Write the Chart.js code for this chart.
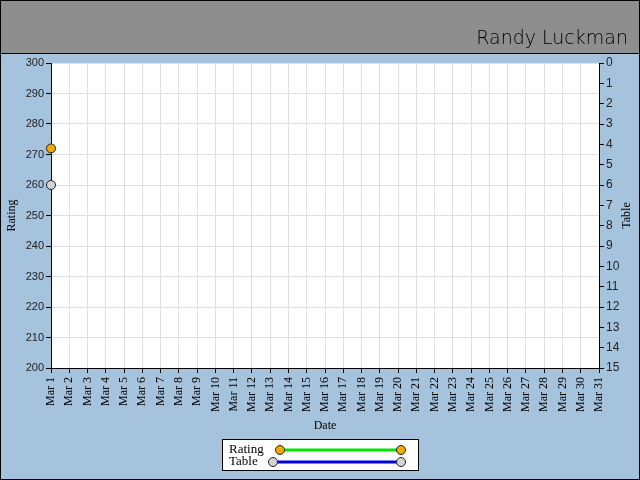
<!DOCTYPE html>
<html>
<head>
<meta charset="utf-8">
<script src="https://cdn.jsdelivr.net/npm/chart.js@4"></script>
<style>
  html, body { margin: 0; padding: 0; background: #a6c3dd; }
  #wrap { width: 640px; height: 480px; position: relative; }
  canvas { display: block; }
</style>
</head>
<body>
<div id="wrap"><canvas id="ratingChart" width="640" height="480"></canvas></div>
<script>
// =====================
// Data
// =====================
const chartTitle = "Randy Luckman";
const dates = [
  "Mar 1", "Mar 2", "Mar 3", "Mar 4", "Mar 5", "Mar 6", "Mar 7", "Mar 8",
  "Mar 9", "Mar 10", "Mar 11", "Mar 12", "Mar 13", "Mar 14", "Mar 15", "Mar 16",
  "Mar 17", "Mar 18", "Mar 19", "Mar 20", "Mar 21", "Mar 22", "Mar 23", "Mar 24",
  "Mar 25", "Mar 26", "Mar 27", "Mar 28", "Mar 29", "Mar 30", "Mar 31"
];
const ratingValues = [272];
const tableValues = [6];

const ratingMin = 200, ratingMax = 300, ratingStep = 10;
const tableMin = 0, tableMax = 15, tableStep = 1;

// =====================
// Colours / fonts
// =====================
const bgBlue = "#a6c3dd";
const headerGray = "#8e8e8e";
const serif = "'Liberation Serif', 'DejaVu Serif', serif";
const sans = "'Liberation Sans', Arial, sans-serif";

// =====================
// Plugins: background, header, legend, right axis title
// =====================
const frame = {
  id: "frame",
  beforeDraw(chart) {
    const c = chart.ctx;
    c.save();
    c.fillStyle = bgBlue;
    c.fillRect(0, 0, 640, 480);
    c.fillStyle = headerGray;
    c.fillRect(0, 0, 640, 53);
    c.strokeStyle = "#000";
    c.lineWidth = 1;
    c.beginPath();
    c.moveTo(0, 53.5);
    c.lineTo(640, 53.5);
    c.stroke();
    c.fillStyle = "#fff";
    const a = chart.chartArea;
    c.fillRect(a.left, a.top, a.right - a.left, a.bottom - a.top);
    c.restore();
  },
  afterDraw(chart) {
    const c = chart.ctx;
    c.save();
    // header title
    c.fillStyle = "#000";
    c.font = "300 19px 'DejaVu Sans', sans-serif";
    c.textAlign = "right";
    c.textBaseline = "alphabetic";
    c.fillText(chartTitle, 628, 44);

    // right axis title, reads bottom to top
    c.font = "12px " + serif;
    c.textAlign = "center";
    c.textBaseline = "middle";
    c.translate(627, (chart.chartArea.top + chart.chartArea.bottom) / 2);
    c.rotate(-Math.PI / 2);
    c.fillText("Table", 0, 0);
    c.restore();

    // legend box
    c.save();
    c.fillStyle = "#fff";
    c.fillRect(222, 439, 196, 31);
    c.strokeStyle = "#000";
    c.lineWidth = 1;
    c.strokeRect(222.5, 439.5, 196, 31);
    const rows = [
      { y: 450, x0: 280 },
      { y: 462, x0: 273 }
    ];
    chart.data.datasets.forEach((ds, i) => {
      const r = rows[i];
      c.fillStyle = "#000";
      c.font = "13px " + serif;
      c.textAlign = "left";
      c.textBaseline = "middle";
      c.fillText(ds.label, 229, r.y);
      c.strokeStyle = ds.borderColor;
      c.lineWidth = 3;
      c.beginPath();
      c.moveTo(r.x0, r.y);
      c.lineTo(401, r.y);
      c.stroke();
      [r.x0, 401].forEach(x => {
        c.beginPath();
        c.arc(x, r.y, 4.5, 0, Math.PI * 2);
        c.fillStyle = ds.pointBackgroundColor;
        c.fill();
        c.lineWidth = 1;
        c.strokeStyle = "#222";
        c.stroke();
      });
    });
    c.restore();

    // outer border
    c.save();
    c.strokeStyle = "#000";
    c.lineWidth = 1;
    c.strokeRect(0.5, 0.5, 639, 479);
    c.restore();
  }
};

// =====================
// Chart
// =====================
const ctx = document.getElementById("ratingChart").getContext("2d");
new Chart(ctx, {
  type: "line",
  data: {
    labels: dates,
    datasets: [
      {
        label: "Rating",
        data: ratingValues,
        yAxisID: "y",
        borderColor: "#00e600",
        borderWidth: 3,
        pointBackgroundColor: "#f7a800",
        pointBorderColor: "#222",
        pointBorderWidth: 1,
        pointRadius: 4.5,
        clip: false
      },
      {
        label: "Table",
        data: tableValues,
        yAxisID: "y1",
        borderColor: "#0000e0",
        borderWidth: 3,
        pointBackgroundColor: "#d4d4d4",
        pointBorderColor: "#222",
        pointBorderWidth: 1,
        pointRadius: 4.5,
        clip: false
      }
    ]
  },
  options: {
    responsive: false,
    animation: false,
    devicePixelRatio: 1,
    layout: { padding: { left: 0, right: 0, top: 63, bottom: 47 } },
    plugins: { legend: { display: false }, tooltip: { enabled: false } },
    scales: {
      x: {
        offset: false,
        afterFit: s => { s.height = 65; },
        grid: { color: "#e0e0e0", tickColor: "#000", tickLength: 5, drawOnChartArea: true },
        border: { color: "#000", width: 1 },
        ticks: {
          autoSkip: false, minRotation: 90, maxRotation: 90, padding: 4,
          color: "#000", font: { family: serif, size: 12 }
        },
        title: { display: true, text: "Date", color: "#000", padding: 0, font: { family: serif, size: 12 } }
      },
      y: {
        position: "left",
        min: ratingMin, max: ratingMax,
        afterFit: s => { s.width = 51; },
        grid: { color: "#e0e0e0", tickColor: "#000", tickLength: 5 },
        border: { color: "#000", width: 1 },
        ticks: { stepSize: ratingStep, padding: 2, color: "#222", font: { family: sans, size: 11 } },
        title: { display: true, text: "Rating", color: "#000", padding: { top: 5, bottom: 0 }, font: { family: serif, size: 12 } }
      },
      y1: {
        position: "right",
        reverse: true,
        min: tableMin, max: tableMax,
        afterFit: s => { s.width = 41; },
        grid: { drawOnChartArea: false, tickColor: "#000", tickLength: 5 },
        border: { color: "#000", width: 1 },
        ticks: { stepSize: tableStep, padding: 2, color: "#222", font: { family: sans, size: 12 } }
      }
    }
  },
  plugins: [frame]
});
</script>
</body>
</html>
